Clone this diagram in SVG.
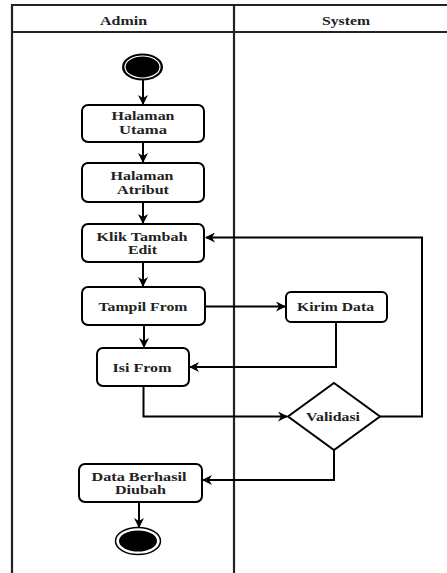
<svg xmlns="http://www.w3.org/2000/svg" width="447" height="573" viewBox="0 0 447 573">
  <style>
    .lane { fill: none; stroke: #222; stroke-width: 2.2; }
    .act { fill: #fff; stroke: #000; stroke-width: 2; }
    .lbl { font-family: "Liberation Serif", "Times New Roman", serif; font-weight: bold; font-size: 12px; fill: #222; text-anchor: middle; }
    .flow { fill: none; stroke: #000; stroke-width: 2; }
  </style>
  <defs>
    <marker id="arrow" viewBox="0 0 10 10" refX="9" refY="5" markerWidth="5" markerHeight="5" orient="auto" markerUnits="strokeWidth">
      <path d="M0,0 L10,5 L0,10 L3,5 z" fill="#000"/>
    </marker>
  </defs>
  <rect width="447" height="573" fill="#fff"/>

  <!-- swimlanes -->
  <g id="lanes">
    <path class="lane" d="M12,580 V5 H460 M12,32 H460 M234,5 V580"/>
    <text class="lbl" x="123.5" y="25" textLength="47" lengthAdjust="spacingAndGlyphs">Admin</text>
    <text class="lbl" x="346" y="25" textLength="48" lengthAdjust="spacingAndGlyphs">System</text>
  </g>

  <!-- connectors -->
  <g id="connectors">
    <path class="flow" marker-end="url(#arrow)" d="M143,80 V104"/>
    <path class="flow" marker-end="url(#arrow)" d="M143,142 V162"/>
    <path class="flow" marker-end="url(#arrow)" d="M143,202 V223"/>
    <path class="flow" marker-end="url(#arrow)" d="M143,262 V286"/>
    <path class="flow" marker-end="url(#arrow)" d="M144,325 V347"/>
    <path class="flow" marker-end="url(#arrow)" d="M205,306.5 H285"/>
    <path class="flow" marker-end="url(#arrow)" d="M336,322 V367 H190"/>
    <path class="flow" marker-end="url(#arrow)" d="M143.5,386 V416.5 H287"/>
    <path class="flow" marker-end="url(#arrow)" d="M380,416.5 H422 V237.5 H206"/>
    <path class="flow" marker-end="url(#arrow)" d="M334,450 V480 H203"/>
    <path class="flow" marker-end="url(#arrow)" d="M139,502 V527"/>
  </g>

  <g id="start">
    <ellipse cx="142.5" cy="67" rx="20.5" ry="13.5" fill="#000"/>
    <ellipse cx="142.5" cy="67" rx="17.5" ry="11" fill="none" stroke="#fff" stroke-width="1.2"/>
  </g>

  <g id="halaman-utama">
    <rect class="act" x="82" y="105" width="122" height="37" rx="6"/>
    <text class="lbl" x="143" y="120" textLength="63" lengthAdjust="spacingAndGlyphs">Halaman</text>
    <text class="lbl" x="143" y="134" textLength="48" lengthAdjust="spacingAndGlyphs">Utama</text>
  </g>

  <g id="halaman-atribut">
    <rect class="act" x="82" y="163" width="122" height="39" rx="6"/>
    <text class="lbl" x="142" y="180" textLength="63" lengthAdjust="spacingAndGlyphs">Halaman</text>
    <text class="lbl" x="143" y="194" textLength="52" lengthAdjust="spacingAndGlyphs">Atribut</text>
  </g>

  <g id="klik-tambah-edit">
    <rect class="act" x="82" y="224" width="122" height="38" rx="6"/>
    <text class="lbl" x="142" y="240.5" textLength="91" lengthAdjust="spacingAndGlyphs">Klik Tambah</text>
    <text class="lbl" x="142.5" y="254" textLength="29" lengthAdjust="spacingAndGlyphs">Edit</text>
  </g>

  <g id="tampil-from">
    <rect class="act" x="82" y="287" width="123" height="38" rx="6"/>
    <text class="lbl" x="143" y="310.5" textLength="89" lengthAdjust="spacingAndGlyphs">Tampil From</text>
  </g>

  <g id="kirim-data">
    <rect class="act" x="286" y="292" width="101" height="30" rx="5"/>
    <text class="lbl" x="335.5" y="310.5" textLength="77" lengthAdjust="spacingAndGlyphs">Kirim Data</text>
  </g>

  <g id="isi-from">
    <rect class="act" x="97" y="348" width="92" height="38" rx="6"/>
    <text class="lbl" x="142" y="371.5" textLength="59" lengthAdjust="spacingAndGlyphs">Isi From</text>
  </g>

  <g id="validasi">
    <path class="act" d="M334,383 L380,416.5 L334,450 L288,416.5 z"/>
    <text class="lbl" x="333" y="420.5" textLength="54" lengthAdjust="spacingAndGlyphs">Validasi</text>
  </g>

  <g id="data-berhasil-diubah">
    <rect class="act" x="79" y="464" width="123" height="38" rx="6"/>
    <text class="lbl" x="139" y="480.5" textLength="95" lengthAdjust="spacingAndGlyphs">Data Berhasil</text>
    <text class="lbl" x="140.5" y="494" textLength="51" lengthAdjust="spacingAndGlyphs">Diubah</text>
  </g>

  <g id="end">
    <ellipse cx="138" cy="541" rx="22.5" ry="13.5" fill="#fff" stroke="#000" stroke-width="1.5"/>
    <ellipse cx="138" cy="541" rx="19" ry="10.5" fill="#000"/>
  </g>
</svg>
